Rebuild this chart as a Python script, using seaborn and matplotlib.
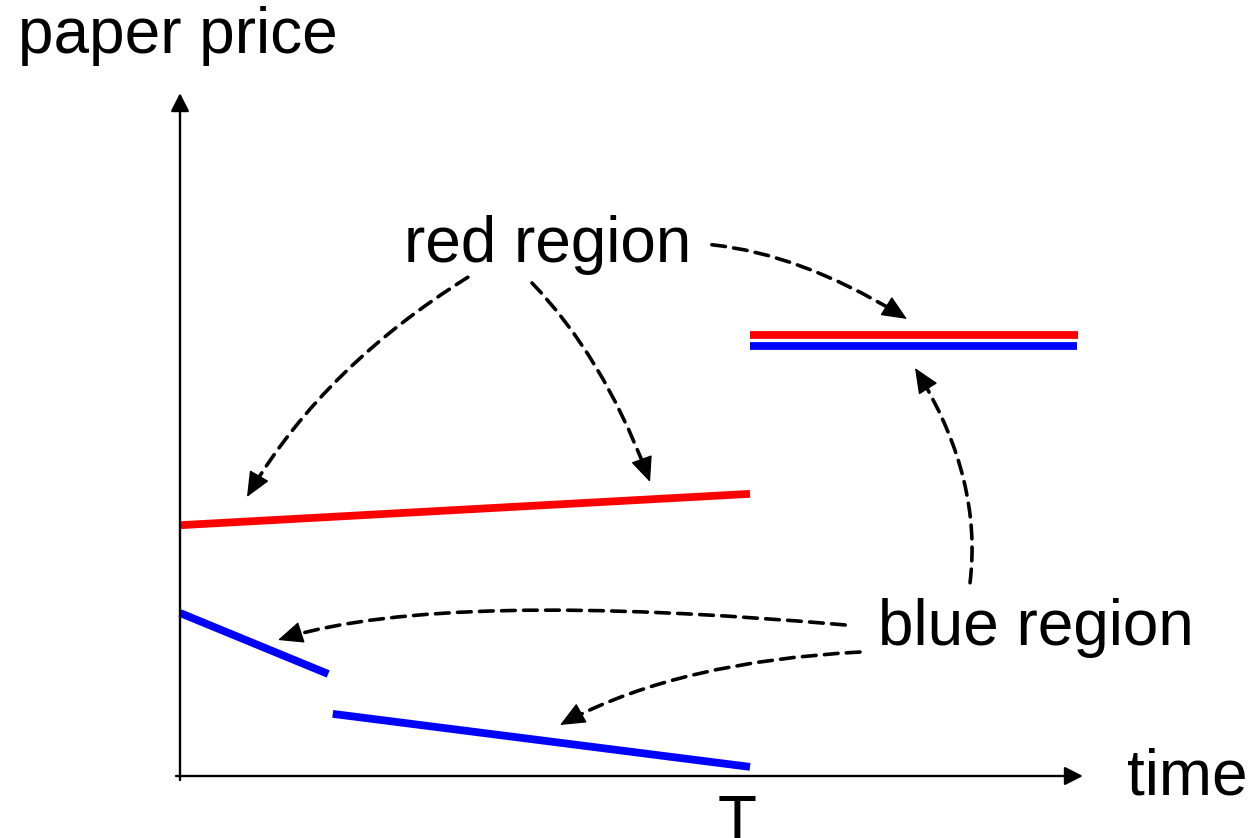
import numpy as np
import pandas as pd
import seaborn as sns
import matplotlib.pyplot as plt

# price path segments (time in units of T, price in same units)
seg_names = ['red_pre', 'red_post', 'blue_post', 'blue_pre1', 'blue_pre2']
seg_colors = ['red', 'red', 'blue', 'blue', 'blue']
seg_time = [[0.0, 1.0], [1.0, 1.575], [1.0, 1.574], [0.0, 0.26], [0.268, 1.0]]
seg_price = [[0.440, 0.495], [0.774, 0.774], [0.755, 0.755], [0.286, 0.179], [0.109, 0.016]]

# text labels
label_text = ['paper price', 'red region', 'blue region', 'time', 'T']
label_x = [-0.284, 0.393, 1.225, 1.661, 0.977]
label_y = [1.268, 0.902, 0.230, -0.033, -0.114]
label_ha = ['left', 'left', 'left', 'left', 'center']

# dashed pointer arrows: start, tip, (angle at start, angle at tip)
arrow_from = [(0.505, 0.875), (0.6175, 0.865), (0.933, 0.932),
              (1.386, 0.339), (1.167, 0.265), (1.193, 0.2175)]
arrow_to = [(0.1175, 0.4895), (0.8246, 0.5158), (1.2754, 0.8018),
            (1.2895, 0.7158), (0.1719, 0.2386), (0.6667, 0.0895)]
arrow_angles = [(212, 240), (-46, -70), (-6, -32), (83, 122), (175, 18), (183, 209)]

# axis ends
x_axis_end = 1.584
y_axis_end = 1.198

rows = []
for name, col, ts, ps in zip(seg_names, seg_colors, seg_time, seg_price):
    for t, p in zip(ts, ps):
        rows.append({'segment': name, 'color': col, 'time': t, 'price': p})
df = pd.DataFrame(rows)

sns.set_style('white')
plt.rcParams['font.family'] = ['Liberation Sans', 'DejaVu Sans']

fig = plt.figure(figsize=(12.5, 8.38), dpi=100)
ax = fig.add_axes([0, 0, 1, 1])
ax.set_xlim(-180 / 570, 1070 / 570)
ax.set_ylim(-62 / 570, 776 / 570)
ax.set_axis_off()

sns.lineplot(data=df, x='time', y='price', hue='color', units='segment',
             estimator=None, sort=False, palette={'red': '#ff0000', 'blue': '#0000ff'},
             linewidth=5.6, solid_capstyle='butt', legend=False, ax=ax)

# axes with arrow heads
axis_style = dict(arrowstyle='-|>,head_length=0.55,head_width=0.28', color='black',
                  lw=1.7, shrinkA=0, shrinkB=0, mutation_scale=20)
ax.annotate('', xy=(x_axis_end, 0), xytext=(-0.007, 0), arrowprops=axis_style)
ax.annotate('', xy=(0, y_axis_end), xytext=(0, -0.007), arrowprops=axis_style)

# dashed curved shafts, solid heads drawn separately along the end tangent
head_len = 0.038
for (x0, y0), (x1, y1), (a0, a1) in zip(arrow_from, arrow_to, arrow_angles):
    ax.annotate('', xy=(x1, y1), xytext=(x0, y0),
                arrowprops=dict(arrowstyle='-', color='black', lw=2.6,
                                linestyle=(0, (3.8, 2.3)), shrinkA=0, shrinkB=8,
                                connectionstyle=f'angle3,angleA={a0},angleB={a1}'))
    ra, rb = np.deg2rad(a0), np.deg2rad(a1)
    m = np.array([[np.cos(ra), -np.cos(rb)], [np.sin(ra), -np.sin(rb)]])
    s, _ = np.linalg.solve(m, [x1 - x0, y1 - y0])
    ctrl = np.array([x0 + s * np.cos(ra), y0 + s * np.sin(ra)])
    u = np.array([x1, y1]) - ctrl
    u = u / np.hypot(*u)
    base = np.array([x1, y1]) - head_len * u
    ax.annotate('', xy=(x1, y1), xytext=tuple(base),
                arrowprops=dict(arrowstyle='-|>,head_length=0.8,head_width=0.35',
                                color='black', lw=1, shrinkA=0, shrinkB=0,
                                mutation_scale=20))

for txt, x, y, ha in zip(label_text, label_x, label_y, label_ha):
    ax.text(x, y, txt, ha=ha, va='baseline', fontsize=46, color='black')

fig.savefig('out.png', dpi=100)
